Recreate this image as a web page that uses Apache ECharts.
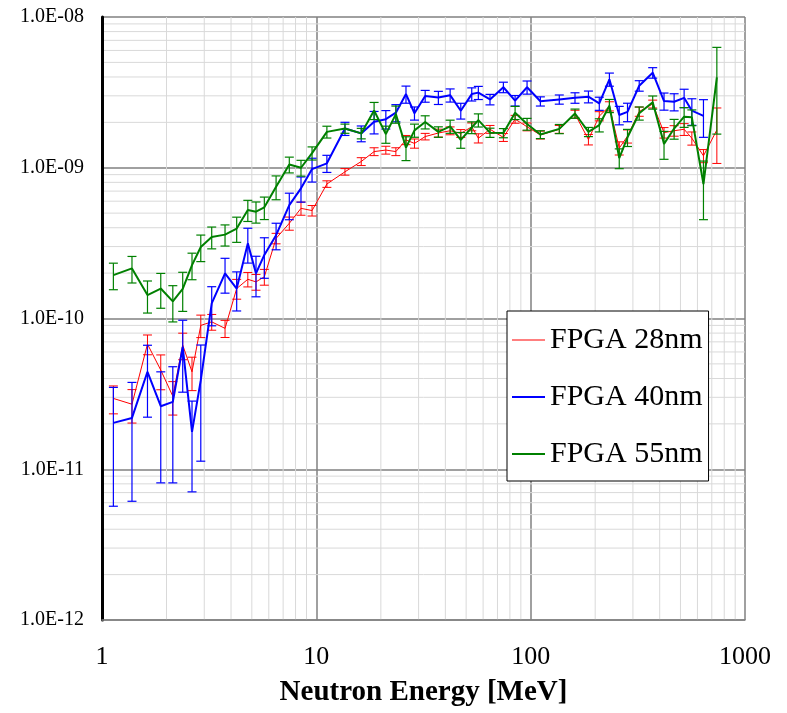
<!DOCTYPE html>
<html>
<head>
<meta charset="utf-8">
<script src="https://cdn.jsdelivr.net/npm/echarts@6/dist/echarts.min.js"></script>
<style>
  html, body { margin: 0; padding: 0; background: #fff; }
  #main { width: 787px; height: 713px; }
</style>
</head>
<body>
<div id="main"></div>
<script>
// neutron energy of each bin [MeV]
const energy = [1.13, 1.38, 1.63, 1.88, 2.14, 2.38, 2.63, 2.89, 3.25, 3.75, 4.25, 4.79, 5.23, 5.72, 6.49, 7.48, 8.48, 9.55,
  11.2, 13.6, 16.2, 18.6, 21.1, 23.5, 26.2, 28.7, 32.2, 37.1, 42.1, 47.2, 53.1, 57.0, 64.6, 74.6, 84.6, 96.2,
  111, 136, 161, 186, 209, 233, 259, 283, 321, 371, 419, 467, 520, 565, 640, 739];

const fpga28 = [2.95e-11, 2.70e-11, 6.76e-11, 4.55e-11, 3.05e-11, 6.66e-11, 4.43e-11, 9.0e-11, 9.5e-11, 8.6e-11,
  1.58e-10, 1.82e-10, 1.75e-10, 1.89e-10, 3.40e-10, 4.28e-10, 5.38e-10, 5.2e-10, 7.8e-10, 9.4e-10,
  1.10e-9, 1.28e-9, 1.31e-9, 1.28e-9, 1.53e-9, 1.45e-9, 1.61e-9, 1.70e-9, 1.76e-9, 1.69e-9,
  1.87e-9, 1.57e-9, 1.80e-9, 1.59e-9, 2.10e-9, 1.87e-9, 1.65e-9, 1.80e-9, 2.27e-9, 1.54e-9,
  2.20e-9, 2.56e-9, 1.35e-9, 1.62e-9, 2.36e-9, 2.65e-9, 1.71e-9, 1.76e-9, 1.80e-9, 1.57e-9, 1.20e-9, 1.78e-9];

const fpga40 = [2.03e-11, 2.19e-11, 4.43e-11, 2.62e-11, 2.80e-11, 6.49e-11, 1.77e-11, 3.9e-11, 1.26e-10, 1.99e-10,
  1.58e-10, 3.15e-10, 1.99e-10, 2.64e-10, 3.57e-10, 5.65e-10, 7.3e-10, 9.8e-10, 1.07e-9, 1.82e-9,
  1.69e-9, 2.02e-9, 2.10e-9, 2.32e-9, 3.08e-9, 2.30e-9, 2.99e-9, 2.92e-9, 3.03e-9, 2.39e-9,
  3.08e-9, 3.15e-9, 2.84e-9, 3.42e-9, 2.79e-9, 3.42e-9, 2.76e-9, 2.84e-9, 2.91e-9, 2.96e-9,
  2.67e-9, 3.86e-9, 2.24e-9, 2.35e-9, 3.5e-9, 4.27e-9, 2.77e-9, 2.74e-9, 2.91e-9, 2.39e-9, 2.21e-9, null];

const fpga55 = [1.94e-10, 2.15e-10, 1.43e-10, 1.58e-10, 1.30e-10, 1.57e-10, 2.26e-10, 2.98e-10, 3.47e-10, 3.60e-10,
  3.95e-10, 5.24e-10, 5.11e-10, 5.46e-10, 7.48e-10, 1.05e-9, 1.0e-9, 1.25e-9, 1.73e-9, 1.82e-9,
  1.69e-9, 2.40e-9, 1.67e-9, 2.27e-9, 1.36e-9, 1.77e-9, 2.01e-9, 1.73e-9, 1.88e-9, 1.53e-9,
  1.85e-9, 2.07e-9, 1.71e-9, 1.70e-9, 2.32e-9, 1.95e-9, 1.66e-9, 1.81e-9, 2.29e-9, 1.73e-9,
  1.92e-9, 2.58e-9, 1.16e-9, 1.59e-9, 2.30e-9, 2.72e-9, 1.44e-9, 1.82e-9, 2.18e-9, 2.16e-9, 7.8e-10, 3.98e-9];

// relative errors (fraction of value)
const err28 = [0.21, 0.25, 0.15, 0.26, 0.25, 0.2, 0.25, 0.17, 0.12, 0.13, 0.15, 0.11, 0.12, 0.12, 0.08, 0.1, 0.1, 0.08,
  0.05, 0.05, 0.06, 0.06, 0.06, 0.06, 0.07, 0.07, 0.05, 0.06, 0.06, 0.06, 0.06, 0.07, 0.06, 0.06, 0.06, 0.06,
  0.06, 0.06, 0.06, 0.08, 0.07, 0.07, 0.1, 0.1, 0.07, 0.06, 0.08, 0.08, 0.09, 0.1, 0.1, 0.4];
const err40 = [0.72, 0.72, 0.5, 0.69, 0.71, 0.5, 0.6, 0.71, 0.29, 0.26, 0.29, 0.26, 0.3, 0.3, 0.2, 0.2, 0.19, 0.18,
  0.13, 0.1, 0.12, 0.17, 0.14, 0.13, 0.13, 0.1, 0.09, 0.1, 0.1, 0.12, 0.1, 0.1, 0.08, 0.08, 0.08, 0.1,
  0.07, 0.07, 0.08, 0.09, 0.1, 0.1, 0.14, 0.14, 0.08, 0.08, 0.13, 0.13, 0.14, 0.2, 0.28, null];
const err55 = [0.2, 0.2, 0.24, 0.26, 0.27, 0.29, 0.2, 0.2, 0.165, 0.16, 0.19, 0.16, 0.16, 0.17, 0.18, 0.12, 0.12, 0.1,
  0.09, 0.07, 0.08, 0.13, 0.13, 0.13, 0.18, 0.1, 0.1, 0.08, 0.1, 0.12, 0.09, 0.1, 0.07, 0.07, 0.1, 0.09,
  0.06, 0.07, 0.07, 0.07, 0.1, 0.1, 0.15, 0.13, 0.1, 0.1, 0.21, 0.15, 0.15, 0.12, 0.42, 0.58];

const names = ['FPGA 28nm', 'FPGA 40nm', 'FPGA 55nm'];
const colors = ['#ff0000', '#0000ff', '#008000'];

// axis range and minor grid positions
const X_MIN = 1, X_MAX = 1000, Y_MIN = 1e-12, Y_MAX = 1e-8;
const minorSteps = [2, 3, 4, 5, 6, 7, 8, 9];
const xDecades = [1, 10, 100];
const yDecades = [1e-12, 1e-11, 1e-10, 1e-9];

const xMinor = [], yMinor = [];
xDecades.forEach(d => minorSteps.forEach(m => xMinor.push([d * m, 1e-10])));
yDecades.forEach(d => minorSteps.forEach(m => yMinor.push([10, d * m])));

const serif = '"Liberation Serif", "Times New Roman", serif';

function pairs(vals) {
  return energy.map((e, i) => vals[i] == null ? null : [e, vals[i]]).filter(p => p);
}
function bars(vals, errs) {
  return energy.map((e, i) => vals[i] == null ? null : [e, vals[i] * (1 - errs[i]), vals[i] * (1 + errs[i])]).filter(p => p);
}

function errRender(color, lw) {
  return function (params, api) {
    const x = api.value(0);
    const top = api.coord([x, api.value(2)]);
    const bot = api.coord([x, api.value(1)]);
    const hw = 4.5;
    const st = { stroke: color, lineWidth: lw };
    return {
      type: 'group',
      children: [
        { type: 'line', shape: { x1: top[0], y1: top[1], x2: bot[0], y2: bot[1] }, style: st },
        { type: 'line', shape: { x1: top[0] - hw, y1: top[1], x2: top[0] + hw, y2: top[1] }, style: st },
        { type: 'line', shape: { x1: bot[0] - hw, y1: bot[1], x2: bot[0] + hw, y2: bot[1] }, style: st }
      ]
    };
  };
}

const myChart = echarts.init(document.getElementById('main'), null, { renderer: 'canvas' });

const errWidths = [1, 1.2, 1.2];
const lineWidths = [1, 2, 2];
const valueSets = [fpga28, fpga40, fpga55];
const errSets = [err28, err40, err55];

const series = [
  {
    name: 'xminor', type: 'custom', silent: true, z: 0, clip: true,
    data: xMinor,
    renderItem: (params, api) => {
      const a = api.coord([api.value(0), Y_MIN]);
      const b = api.coord([api.value(0), Y_MAX]);
      return { type: 'line', shape: { x1: a[0], y1: a[1], x2: b[0], y2: b[1] }, style: { stroke: '#d9d9d9', lineWidth: 1 } };
    }
  },
  {
    name: 'yminor', type: 'custom', silent: true, z: 0, clip: true,
    data: yMinor,
    renderItem: (params, api) => {
      const a = api.coord([X_MIN, api.value(1)]);
      const b = api.coord([X_MAX, api.value(1)]);
      return { type: 'line', shape: { x1: a[0], y1: a[1], x2: b[0], y2: b[1] }, style: { stroke: '#d9d9d9', lineWidth: 1 } };
    }
  }
];

names.forEach((n, k) => {
  series.push({
    name: n + ' err', type: 'custom', silent: true, z: 3 + k * 2, clip: true,
    data: bars(valueSets[k], errSets[k]),
    renderItem: errRender(colors[k], errWidths[k])
  });
  series.push({
    name: n, type: 'line', z: 4 + k * 2,
    symbol: 'none', showSymbol: false,
    lineStyle: { color: colors[k], width: lineWidths[k] },
    itemStyle: { color: colors[k] },
    data: pairs(valueSets[k])
  });
});

const option = {
  animation: false,
  backgroundColor: '#fff',
  grid: { left: 102, right: 42, top: 17, bottom: 93 },
  legend: {
    data: names.map((n, k) => ({
      name: n,
      icon: k === 0 ? 'path://M0,0H33V1H0Z' : 'path://M0,0H33V2H0Z'
    })),
    orient: 'vertical',
    left: 507, top: 311,
    backgroundColor: '#fff',
    borderColor: '#000', borderWidth: 1, borderRadius: 0,
    padding: [14, 6, 12, 5],
    itemWidth: 33, itemHeight: 14, itemGap: 27,
    textStyle: { fontFamily: serif, fontSize: 30, color: '#000', lineHeight: 30 }
  },
  xAxis: {
    type: 'log', logBase: 10, min: X_MIN, max: X_MAX,
    name: 'Neutron Energy [MeV]', nameLocation: 'middle', nameGap: 58,
    nameTextStyle: { fontFamily: serif, fontSize: 29, fontWeight: 'bold', color: '#000' },
    axisLine: { show: true, lineStyle: { color: '#808080', width: 1.5 } },
    axisTick: { show: false },
    axisLabel: { fontFamily: serif, fontSize: 26, color: '#000', margin: 24, formatter: v => String(Math.round(v)) },
    splitLine: { show: true, lineStyle: { color: '#808080', width: 1.5 } }
  },
  yAxis: {
    type: 'log', logBase: 10, min: Y_MIN, max: Y_MAX,
    axisLine: { show: true, lineStyle: { color: '#000', width: 3 } },
    axisTick: { show: false },
    axisLabel: {
      fontFamily: serif, fontSize: 20, color: '#000', margin: 18,
      formatter: v => {
        const p = Math.round(Math.log10(v));
        const a = Math.abs(p);
        return '1.0E' + (p < 0 ? '-' : '+') + (a < 10 ? '0' + a : a);
      }
    },
    splitLine: { show: true, lineStyle: { color: '#808080', width: 1.5 } }
  },
  series: series
};

myChart.setOption(option);
</script>
</body>
</html>
